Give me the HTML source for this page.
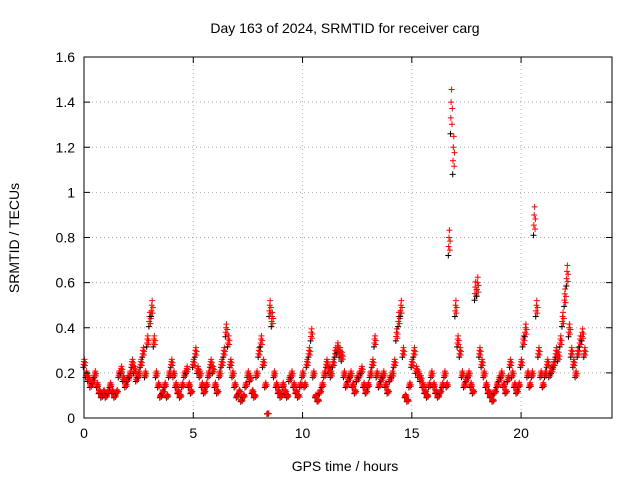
<!DOCTYPE html>
<html><head><meta charset="utf-8"><style>
body{margin:0;background:#fff}
svg text{font-family:"Liberation Sans",sans-serif;font-size:14px;fill:#000}
</style></head><body>
<svg id="c" width="640" height="480">
<rect width="640" height="480" fill="#fff"/>
<text x="345" y="33" text-anchor="middle">Day 163 of 2024, SRMTID for receiver carg</text>
<text x="345" y="471" text-anchor="middle">GPS time / hours</text>
<text transform="translate(19,238) rotate(-90)" text-anchor="middle">SRMTID / TECUs</text>
<g id="grid"></g><g id="pts"></g>
<rect x="84" y="57" width="528" height="361" fill="none" stroke="#000"/>
<g id="ticks"></g>
</svg>
<script>
const xTicks=[0,5,10,15,20];
const yTicks=[0,0.2,0.4,0.6,0.8,1,1.2,1.4,1.6];
const yLabels=["0","0.2","0.4","0.6","0.8","1","1.2","1.4","1.6"];
const tStart=0, tStep=0.1;
const srmtid=[0.25,0.2,0.18,0.15,0.17,0.2,0.15,0.12,0.1,0.12,
0.1,0.12,0.15,0.12,0.1,0.12,0.2,0.22,0.18,0.15,
0.18,0.2,0.25,0.22,0.18,0.2,0.25,0.3,0.2,0.35,
0.45,0.5,0.35,0.2,0.15,0.1,0.12,0.15,0.1,0.2,
0.25,0.2,0.15,0.12,0.1,0.15,0.2,0.22,0.15,0.12,
0.25,0.3,0.22,0.2,0.15,0.12,0.15,0.2,0.25,0.22,
0.15,0.12,0.2,0.25,0.3,0.4,0.35,0.25,0.2,0.15,
0.1,0.12,0.08,0.1,0.15,0.2,0.18,0.12,0.1,0.2,
0.3,0.35,0.25,0.15,0.02,0.5,0.45,0.2,0.15,0.12,
0.1,0.15,0.12,0.1,0.18,0.2,0.15,0.12,0.1,0.15,
0.2,0.15,0.25,0.3,0.38,0.2,0.1,0.08,0.12,0.15,
0.2,0.25,0.22,0.2,0.25,0.3,0.32,0.3,0.28,0.2,
0.15,0.18,0.2,0.15,0.12,0.18,0.2,0.22,0.15,0.12,
0.15,0.2,0.25,0.35,0.2,0.15,0.18,0.2,0.15,0.12,
0.18,0.2,0.25,0.38,0.45,0.5,0.3,0.1,0.08,0.15,
0.25,0.3,0.22,0.2,0.18,0.15,0.12,0.1,0.15,0.2,
0.15,0.12,0.1,0.12,0.15,0.2,0.15,0.8,1.4,1.2,
0.5,0.35,0.3,0.2,0.15,0.18,0.2,0.15,0.12,0.58,
0.6,0.3,0.25,0.2,0.15,0.12,0.1,0.08,0.12,0.15,
0.18,0.2,0.15,0.12,0.18,0.25,0.2,0.15,0.12,0.15,
0.25,0.35,0.4,0.2,0.15,0.2,0.9,0.5,0.3,0.2,
0.15,0.2,0.25,0.2,0.22,0.25,0.3,0.28,0.35,0.45,
0.55,0.65,0.4,0.3,0.25,0.2,0.3,0.35,0.38,0.3];
const X0=84,X1=612,Y0=418,Y1=57,XMAX=24.16,YMAX=1.6;
const xs=v=>X0+v/XMAX*(X1-X0);
const ys=v=>Y0-v/YMAX*(Y0-Y1);
const NS="http://www.w3.org/2000/svg";
const grid=document.getElementById('grid'),tk=document.getElementById('ticks'),pts=document.getElementById('pts');
function mk(tag,a,p){const e=document.createElementNS(NS,tag);for(const k in a)e.setAttribute(k,a[k]);p.appendChild(e);return e;}
xTicks.forEach(v=>{const x=xs(v);
 const g=mk('line',{x1:x,x2:x,y1:Y1,y2:Y0,stroke:'#aaa','stroke-dasharray':'1,3'},grid);
 
 
 const t=mk('text',{x:x,y:Y0+20,'text-anchor':'middle'},tk);t.textContent=v;
 
 
 mk('line',{x1:x,x2:x,y1:Y0,y2:Y0-6,stroke:'#000'},tk);mk('line',{x1:x,x2:x,y1:Y1,y2:Y1+6,stroke:'#000'},tk);});
yTicks.forEach((v,i)=>{const y=ys(v);
 const g=mk('line',{x1:X0,x2:X1,y1:y,y2:y,stroke:'#aaa','stroke-dasharray':'1,3'},grid);
 
 
 const t=mk('text',{x:X0-9,y:y+5,'text-anchor':'end'},tk);t.textContent=yLabels[i];
 
 
 mk('line',{x1:X0,x2:X0+6,y1:y,y2:y,stroke:'#000'},tk);mk('line',{x1:X1,x2:X1-6,y1:y,y2:y,stroke:'#000'},tk);});
const offs=[[-0.03,0.9,'#000'],[-0.015,0.95,'#f00'],[0,1,'#f00'],[0.02,1.04,'#f00'],[0.04,0.93,'#f00'],[0.055,0.98,'#f00']];
srmtid.forEach((v,i)=>{const t=tStart+i*tStep;
 offs.forEach(o=>{const x=xs(t+o[0]),y=ys(v*o[1]);
  const p=mk('path',{d:`M${x-3},${y}h6M${x},${y-3}v6`,stroke:o[2],'stroke-width':1},pts);
  
  });});
</script>
</body></html>
